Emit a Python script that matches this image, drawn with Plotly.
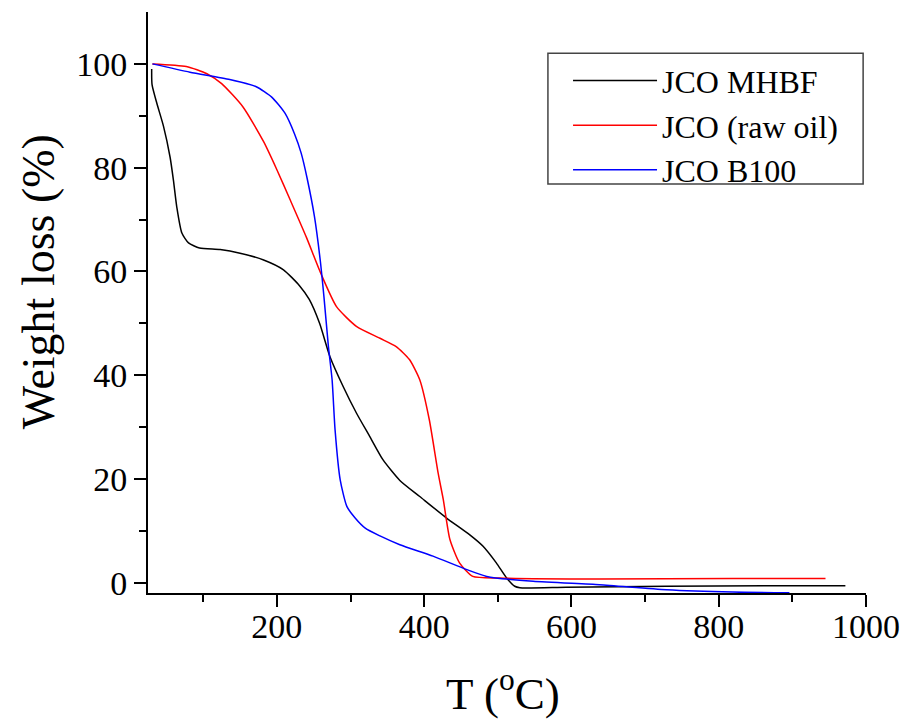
import plotly.graph_objects as go

# JCO MHBF (black)
mhbf_T = [30, 30.5, 37, 46, 55, 59.5, 64, 71, 80, 95, 123, 150, 182, 209, 231, 244, 258, 272, 290, 308,
          326, 344, 367, 394, 430, 462, 480, 498, 512, 523, 530, 593, 729, 864, 972]
mhbf_W = [99, 96, 92.4, 88, 82, 77.6, 72.5, 67.4, 65.5, 64.5, 64.2, 63.5, 62.2, 60.3, 57.2, 54.6, 50, 43.6, 37.8, 32.7,
          28.2, 23.7, 19.7, 16.6, 12.5, 9.2, 7.0, 3.8, 0.9, -0.7, -1.0, -0.9, -0.7, -0.6, -0.6]

# JCO (raw oil) (red)
raw_T = [31, 77, 105, 125, 154, 182, 200, 218, 240, 260, 281, 308, 340, 362, 380, 394, 407, 419, 426,
         435, 448, 466, 502, 638, 819, 945]
raw_W = [100, 99.5, 98.1, 96.2, 91.7, 85, 79.6, 73.8, 66.6, 59.5, 53.2, 49.4, 47.1, 45.5, 43, 39.1, 31.4, 21.1, 16,
         8.3, 3.8, 1.2, 0.9, 0.7, 0.8, 0.8]

# JCO B100 (blue)
b100_T = [31, 82, 136, 172, 193, 211, 224, 233, 241, 251, 259, 264, 270, 275, 279, 286, 295, 306, 320, 340,
          367, 412, 458, 485, 548, 638, 729, 819, 896]
b100_W = [100, 98.4, 97, 95.6, 93.6, 90.5, 86.5, 82.8, 78, 70.6, 62, 55, 45.5, 39.1, 29.5, 19.8, 14.7, 12.5, 10.5, 9,
          7.3, 5.1, 2.5, 1.2, 0.25, -0.4, -1.35, -1.8, -1.95]

series_names = ["JCO MHBF", "JCO (raw oil)", "JCO B100"]
x_ticks = [200, 400, 600, 800, 1000]
y_ticks = [0, 20, 40, 60, 80, 100]

FONT = "Liberation Serif, Times New Roman, serif"

fig = go.Figure()
fig.add_trace(go.Scatter(x=mhbf_T, y=mhbf_W, mode="lines", name=series_names[0],
                         line=dict(color="black", width=1.5, shape="spline", smoothing=0.6)))
fig.add_trace(go.Scatter(x=raw_T, y=raw_W, mode="lines", name=series_names[1],
                         line=dict(color="#ff0000", width=1.5, shape="spline", smoothing=0.6)))
fig.add_trace(go.Scatter(x=b100_T, y=b100_W, mode="lines", name=series_names[2],
                         line=dict(color="#0000ff", width=1.5, shape="spline", smoothing=0.6)))

fig.update_layout(
    width=900, height=711,
    margin=dict(l=140, r=42, t=4, b=126),
    paper_bgcolor="white", plot_bgcolor="white",
    font=dict(family=FONT, color="black"),
    showlegend=True,
    legend=dict(x=0.585, y=0.929, xanchor="left", yanchor="top",
                borderwidth=0, bgcolor="rgba(0,0,0,0)",
                font=dict(family=FONT, size=32, color="black"),
                itemwidth=84, tracegroupgap=0),
    xaxis=dict(range=[25, 1000], tickvals=x_ticks, ticktext=[str(v) for v in x_ticks],
               showgrid=False, zeroline=False, showline=True, linecolor="black", linewidth=2,
               ticks="outside", ticklen=12, tickwidth=2, tickcolor="black",
               ticklabelstandoff=-10,
               tickfont=dict(family=FONT, size=34, color="black"),
               minor=dict(tickvals=[100, 300, 500, 700, 900], ticks="outside", ticklen=7,
                          tickwidth=2, tickcolor="black")),
    yaxis=dict(range=[-2, 110], tickvals=y_ticks, ticktext=[str(v) for v in y_ticks],
               showgrid=False, zeroline=False, showline=True, linecolor="black", linewidth=2,
               ticks="outside", ticklen=12, tickwidth=2, tickcolor="black",
               tickfont=dict(family=FONT, size=34, color="black"),
               minor=dict(tickvals=[10, 30, 50, 70, 90], ticks="outside", ticklen=7,
                          tickwidth=2, tickcolor="black")),
)

# legend frame
fig.add_shape(type="rect", xref="paper", yref="paper",
              x0=0.557, x1=0.996, y0=0.704, y1=0.929,
              line=dict(color="#444", width=1.5), fillcolor="rgba(0,0,0,0)", layer="above")

fig.add_annotation(text="Weight loss (%)", xref="paper", yref="paper",
                   x=-0.153, y=0.535, xanchor="center", yanchor="middle",
                   textangle=-90, showarrow=False,
                   font=dict(family=FONT, size=46, color="black"))
fig.add_annotation(text="T (<sup>o</sup>C)", xref="paper", yref="paper",
                   x=0.494, y=-0.167, xanchor="center", yanchor="middle",
                   showarrow=False,
                   font=dict(family=FONT, size=45, color="black"))

fig.write_html("out.html")
